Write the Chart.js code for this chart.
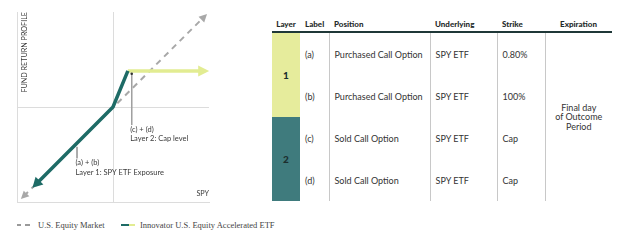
<!DOCTYPE html>
<html>
<head>
<meta charset="utf-8">
<script src="https://cdn.jsdelivr.net/npm/chart.js@4/dist/chart.umd.min.js"></script>
<style>
  body { margin: 0; width: 624px; height: 244px; background: #fff; position: relative; overflow: hidden; font-family: Lato, sans-serif; color: #333; }
  #payoff { position: absolute; left: 0; top: 0; }
  .lg { position: absolute; }
  .lgtext { position: absolute; top: 219px; font-family: "Liberation Serif", serif; font-size: 8.5px; color: #444; white-space: nowrap; line-height: 12px; }
  #layers { position: absolute; left: 272px; top: 15px; width: 340px; border-collapse: collapse; table-layout: fixed; font-size: 9px; color: #333; }
  #layers th { font-weight: 900; font-size: 8px; height: 14px; padding: 0 0 2px 5px; text-align: left; vertical-align: bottom; border-bottom: 2px solid #1f3838; color: #1f2b2b; white-space: nowrap; }
  #layers th.c { text-align: center; padding-left: 0; }
  #layers td { height: 42px; padding: 0 0 0 5px; vertical-align: middle; border-left: 1px solid #c8c8c8; white-space: nowrap; }
  #layers td.layer { border-left: none; padding: 0; text-align: center; font-weight: 900; font-size: 10px; color: #1c2e2e; }
  #layers td.lbl { border-left: none; }
  #layers td.exp { text-align: center; padding: 0; line-height: 9.5px; font-size: 9px; }
</style>
</head>
<body>
<canvas id="payoff" width="230" height="214"></canvas>

<div class="lg" style="left:17px;top:224px;width:4px;height:1.5px;background:#9a9a9a"></div>
<div class="lg" style="left:25px;top:224px;width:5px;height:1.5px;background:#9a9a9a"></div>
<div class="lgtext" style="left:38px">U.S. Equity Market</div>
<div class="lg" style="left:121px;top:223.5px;width:8px;height:2.5px;background:#1e6b66"></div>
<div class="lg" style="left:129px;top:223.5px;width:6px;height:2.5px;background:#e2ec92"></div>
<div class="lgtext" style="left:140px">Innovator U.S. Equity Accelerated ETF</div>

<table id="layers">
  <colgroup>
    <col style="width:28px"><col style="width:29px"><col style="width:101px">
    <col style="width:67px"><col style="width:48px"><col style="width:67px">
  </colgroup>
  <thead>
    <tr><th class="c">Layer</th><th>Label</th><th>Position</th><th>Underlying</th><th>Strike</th><th class="c">Expiration</th></tr>
  </thead>
  <tbody id="layerRows"></tbody>
</table>

<script>
// payoff lines (SPY return on x, fund return on y, both -10..10)
const marketX = [-9.3, 9.5];
const marketY = [-9.4, 9.5];
const etfX = [-8.1, 0, 1.55];
const etfY = [-8.2, 0, 3.8];
const capX = [1.55, 9.6];
const capY = [3.8, 3.8];

// annotation markers
const capMarkX = [1.95, 1.95];
const capMarkY = [3.5, -1.9];
const layer1MarkX = [-3.75, -3.75];
const layer1MarkY = [-4.2, -5.4];

// table
const layerNames = ['1', '2'];
const layerColors = ['#e6ec9c', '#3f7b7d'];
const optLabels = ['(a)', '(b)', '(c)', '(d)'];
const optPositions = ['Purchased Call Option', 'Purchased Call Option', 'Sold Call Option', 'Sold Call Option'];
const optUnderlying = ['SPY ETF', 'SPY ETF', 'SPY ETF', 'SPY ETF'];
const optStrikes = ['0.80%', '100%', 'Cap', 'Cap'];
const expiration = ['Final day', 'of Outcome', 'Period'];

function pts(xs, ys) {
    return xs.map(function (x, i) { return { x: x, y: ys[i] }; });
}

// build table rows
let body = document.getElementById('layerRows');
optLabels.forEach(function (lbl, i) {
    let tr = document.createElement('tr');
    let html = '';
    if (i % 2 === 0) {
        let k = i / 2;
        html += '<td class="layer" rowspan="2" style="background:' + layerColors[k] + '">' + layerNames[k] + '</td>';
    }
    html += '<td class="lbl">' + lbl + '</td><td>' + optPositions[i] + '</td><td>' + optUnderlying[i] + '</td><td>' + optStrikes[i] + '</td>';
    if (i === 0) {
        html += '<td class="exp" rowspan="4">' + expiration.join('<br>') + '</td>';
    }
    tr.innerHTML = html;
    body.appendChild(tr);
});

// arrow heads at line ends
const arrowPlugin = {
    id: 'arrows',
    afterDatasetsDraw(chart) {
        let ctx = chart.ctx;
        chart.data.datasets.forEach(function (ds, i) {
            if (!ds.arrows) return;
            let pts = chart.getDatasetMeta(i).data;
            ds.arrows.forEach(function (end) {
                let a = end === 'start' ? pts[0] : pts[pts.length - 1];
                let b = end === 'start' ? pts[1] : pts[pts.length - 2];
                let dx = a.x - b.x, dy = a.y - b.y;
                let len = Math.sqrt(dx * dx + dy * dy);
                dx /= len; dy /= len;
                let L = ds.arrowLen, W = ds.arrowWidth;
                let tx = a.x + dx * 4, ty = a.y + dy * 4;
                ctx.save();
                ctx.fillStyle = ds.borderColor;
                ctx.beginPath();
                ctx.moveTo(tx, ty);
                ctx.lineTo(tx - dx * L - dy * W, ty - dy * L + dx * W);
                ctx.lineTo(tx - dx * L + dy * W, ty - dy * L - dx * W);
                ctx.closePath();
                ctx.fill();
                ctx.restore();
            });
        });
    }
};

// text labels
const textPlugin = {
    id: 'texts',
    afterDraw(chart) {
        let ctx = chart.ctx;
        let area = chart.chartArea;
        let xs = chart.scales.x, ys = chart.scales.y;
        ctx.save();
        ctx.fillStyle = '#3a3a3a';
        ctx.font = '7.2px Lato';

        ctx.save();
        ctx.translate(area.left + 8, area.top);
        ctx.rotate(-Math.PI / 2);
        ctx.textAlign = 'right';
        ctx.textBaseline = 'middle';
        ctx.fillText('FUND RETURN PROFILE', 0, 0);
        ctx.restore();

        ctx.textAlign = 'right';
        ctx.textBaseline = 'middle';
        ctx.fillText('SPY', area.right, area.bottom - 8);

        ctx.font = '7.5px Lato';
        ctx.textAlign = 'left';
        ctx.textBaseline = 'top';
        let cx = xs.getPixelForValue(capMarkX[1]) - 1.5;
        let cy = ys.getPixelForValue(capMarkY[1]) + 0.5;
        ctx.fillText('(c) + (d)', cx, cy);
        ctx.fillText('Layer 2: Cap level', cx, cy + 9.5);
        let lx = xs.getPixelForValue(layer1MarkX[1]) - 1.5;
        let ly = ys.getPixelForValue(layer1MarkY[1]) + 1;
        ctx.fillText('(a) + (b)', lx, ly);
        ctx.fillText('Layer 1: SPY ETF Exposure', lx, ly + 10);
        ctx.restore();
    }
};

function drawChart(canvasId) {
    let chart_ele = document.getElementById(canvasId).getContext('2d');

    let zeroGrid = function (c) { return c.tick.value === 0 ? '#dcdcdc' : 'rgba(0,0,0,0)'; };

    new Chart(chart_ele, {
        type: 'line',
        data: {
            datasets: [{
                label: 'cap marker',
                data: pts(capMarkX, capMarkY),
                borderColor: '#a0a0a0',
                borderWidth: 1,
                pointRadius: [1.3, 0],
                pointBackgroundColor: '#333',
                pointBorderWidth: 0,
                order: 0
            }, {
                label: 'layer 1 marker',
                data: pts(layer1MarkX, layer1MarkY),
                borderColor: '#a0a0a0',
                borderWidth: 1,
                pointRadius: 0,
                order: 0
            }, {
                label: 'Innovator U.S. Equity Accelerated ETF',
                data: pts(etfX, etfY),
                borderColor: '#1e6b66',
                borderWidth: 3.5,
                pointRadius: 0,
                arrows: ['start'],
                arrowLen: 10,
                arrowWidth: 5.5,
                order: 1
            }, {
                label: 'Cap',
                data: pts(capX, capY),
                borderColor: '#e2ec92',
                borderWidth: 3.5,
                pointRadius: 0,
                arrows: ['end'],
                arrowLen: 11,
                arrowWidth: 5.5,
                order: 2
            }, {
                label: 'U.S. Equity Market',
                data: pts(marketX, marketY),
                borderColor: '#a8a8a8',
                borderWidth: 2,
                borderDash: [6, 5],
                pointRadius: 0,
                arrows: ['start', 'end'],
                arrowLen: 8,
                arrowWidth: 4,
                order: 3
            }]
        },
        options: {
            responsive: false,
            animation: false,
            layout: { padding: { left: 17, top: 12, right: 21, bottom: 12 } },
            plugins: {
                legend: { display: false },
                tooltip: { enabled: false }
            },
            scales: {
                x: {
                    type: 'linear', min: -10, max: 10,
                    ticks: { display: false, stepSize: 10 },
                    grid: { color: zeroGrid, drawTicks: false, lineWidth: 1 },
                    border: { display: true, color: '#dcdcdc' }
                },
                y: {
                    type: 'linear', min: -10, max: 10,
                    ticks: { display: false, stepSize: 10 },
                    grid: { color: zeroGrid, drawTicks: false, lineWidth: 1 },
                    border: { display: true, color: '#dcdcdc' }
                }
            }
        },
        plugins: [arrowPlugin, textPlugin]
    });
}

drawChart('payoff');
</script>
</body>
</html>
